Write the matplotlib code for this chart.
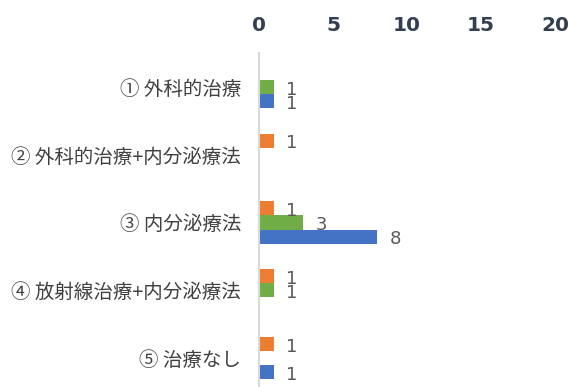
import matplotlib
matplotlib.use("Agg")
import matplotlib.pyplot as plt
import numpy as np

plt.rcParams['font.family'] = ['Noto Sans CJK JP', 'DejaVu Sans']

categories = ["① 外科的治療", "② 外科的治療+内分泌療法", "③ 内分泌療法",
              "④ 放射線治療+内分泌療法", "⑤ 治療なし"]
# series drawn top-to-bottom within each category
orange_vals = [0, 1, 1, 1, 1]
green_vals = [1, 0, 3, 1, 0]
blue_vals = [1, 0, 8, 0, 1]
x_ticks = [0, 5, 10, 15, 20]

W, H = 573, 387
fig = plt.figure(figsize=(W / 100, H / 100), dpi=100)
left, right = 259 / W, 555 / W
top_px, bottom_px = 53, 392
ax = fig.add_axes([left, (H - bottom_px) / H, right - left, (bottom_px - top_px) / H])

y = np.arange(len(categories))
h = 14 / 67.75
series = [(orange_vals, '#ED7D31', -h), (green_vals, '#70AD47', 0), (blue_vals, '#4472C4', h)]
for vals, col, off in series:
    for yi, v in zip(y, vals):
        if v == 0:
            continue
        ax.barh(yi + off, v, height=h, color=col, edgecolor='none')
        ax.annotate(str(v), xy=(v, yi + off), xytext=(9, -2), textcoords='offset points',
                    ha='left', va='center', fontsize=13, color='#595959',
                    family=['DejaVu Sans'])

ax.set_xlim(0, 20)
ax.set_ylim(len(categories) - 0.5, -0.5)
ax.set_xticks(x_ticks)
ax.xaxis.tick_top()
ax.tick_params(axis='x', length=0, pad=13, labelsize=14.5, labelcolor='#333F50')
for lbl in ax.get_xticklabels():
    lbl.set_fontweight('bold')
    lbl.set_family(['DejaVu Sans'])
ax.set_yticks(y)
ax.set_yticklabels(categories)
ax.tick_params(axis='y', length=0, pad=13, labelsize=14, labelcolor='#404040')
for s in ['top', 'right', 'bottom']:
    ax.spines[s].set_visible(False)
ax.spines['left'].set_color('#D9D9D9')
ax.spines['left'].set_linewidth(1.5)

fig.savefig('out.png', dpi=100)
